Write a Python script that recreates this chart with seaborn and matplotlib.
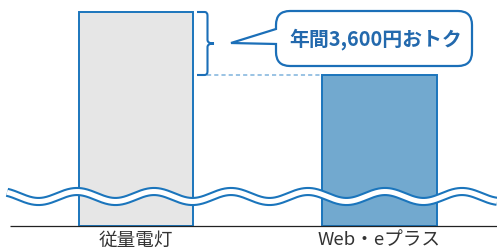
import numpy as np
import pandas as pd
import matplotlib
matplotlib.use("Agg")
import matplotlib.pyplot as plt
import matplotlib.transforms as mtransforms
from matplotlib.path import Path
from matplotlib.patches import PathPatch
import seaborn as sns

# ---- data ----
categories = ["従量電灯", "Web・eプラス"]
annual_cost = [12230, 8630]          # notional yen / year (broken axis)
bar_colors = ["#e6e6e6", "#72a9cf"]

saving = annual_cost[0] - annual_cost[1]
callout_text = f"年間{saving:,}円おトク"

sns.set_theme(style="white")
plt.rcParams["font.family"] = ["Noto Sans CJK JP", "DejaVu Sans"]
plt.rcParams["lines.scale_dashes"] = False

W, H = 497, 251
fig = plt.figure(figsize=(W / 100, H / 100), dpi=100)
fig.patch.set_facecolor("white")

base_px = 227          # baseline y (from top)
top_px = 13            # top of tallest bar
ax = fig.add_axes([0, (H - base_px) / H, 1, base_px / H])
ax.patch.set_alpha(0)

df = pd.DataFrame({"cat": categories, "cost": annual_cost})
bar_w = 0.47
sns.barplot(data=df, x="cat", y="cost", hue="cat", palette=bar_colors,
            saturation=1, width=bar_w, edgecolor="#1b75bc", linewidth=1.4,
            legend=False, ax=ax, zorder=2)

ytop = annual_cost[0] * base_px / (base_px - top_px)
ax.set_ylim(0, ytop)
x0, x1 = -0.5585, 1.4825
ax.set_xlim(x0, x1)
for s in ax.spines.values():
    s.set_visible(False)
ax.set_yticks([])
ax.set_xlabel("")
ax.set_ylabel("")
ax.tick_params(axis="x", length=0, pad=3.2, labelsize=13.4, labelcolor="#333333")

def px2cat(px):
    return x0 + px / W * (x1 - x0)

# baseline
ax.plot([px2cat(10), x1], [0, 0], color="#222222", lw=0.9, zorder=5,
        solid_capstyle="butt", clip_on=False)

# dashed reference line at second bar top
ax.plot([px2cat(207), 1 - bar_w / 2], [annual_cost[1]] * 2, color="#7fb3dc",
        lw=1.1, ls=(0, (3.0, 2.2)), zorder=3)

# curly brace between the two tops
bt = mtransforms.blended_transform_factory(ax.transAxes, ax.transData)
v1, v2 = annual_cost
mid = (v1 + v2) / 2
d = 3.5 * ytop / base_px
xa, xb, xc = 197 / W, 207.5 / W, 214 / W
verts = [(xa, v1), (xb - 3 / W, v1), (xb, v1), (xb, v1 - d),
         (xb, mid + d), (xb, mid), (xc, mid),
         (xb, mid), (xb, mid - d),
         (xb, v2 + d), (xb, v2), (xb - 3 / W, v2), (xa, v2)]
codes = [Path.MOVETO, Path.LINETO, Path.CURVE3, Path.CURVE3,
         Path.LINETO, Path.CURVE3, Path.CURVE3,
         Path.CURVE3, Path.CURVE3,
         Path.LINETO, Path.CURVE3, Path.CURVE3, Path.LINETO]
ax.add_patch(PathPatch(Path(verts, codes), transform=bt, fill=False,
                       edgecolor="#1b6fb8", lw=1.5, zorder=4, clip_on=False))

# ---- overlay in pixel coordinates for decorations ----
ov = fig.add_axes([0, 0, 1, 1], zorder=10)
ov.set_xlim(0, W)
ov.set_ylim(H, 0)
ov.axis("off")
ov.patch.set_alpha(0)

# wavy break
xw = np.linspace(7, W, 800)
yw = 197.5 - 5.0 * np.cos(2 * np.pi * (xw - 77) / 77)
ov.plot(xw, yw, color="#1b75bc", lw=6.6, solid_capstyle="butt")
ov.plot(xw, yw, color="white", lw=3.6, solid_capstyle="butt")

# speech bubble
L, R, T, B, r = 276, 472, 12, 67, 14
bverts = [(L + r, T), (R - r, T), (R, T), (R, T + r),
          (R, B - r), (R, B), (R - r, B),
          (L + r, B), (L, B), (L, B - r),
          (L, 45), (231, 44), (L, 30),
          (L, T + r), (L, T), (L + r, T), (L + r, T)]
bcodes = [Path.MOVETO, Path.LINETO, Path.CURVE3, Path.CURVE3,
          Path.LINETO, Path.CURVE3, Path.CURVE3,
          Path.LINETO, Path.CURVE3, Path.CURVE3,
          Path.LINETO, Path.LINETO, Path.LINETO,
          Path.LINETO, Path.CURVE3, Path.CURVE3, Path.CLOSEPOLY]
ov.add_patch(PathPatch(Path(bverts, bcodes), facecolor="white",
                       edgecolor="#1b6fb8", lw=1.6, joinstyle="miter"))
ov.text(376, 39.5, callout_text, ha="center", va="center", fontsize=14.3,
        fontweight="bold", color="#2369ad")

fig.savefig("out.png", dpi=100, facecolor="white")
